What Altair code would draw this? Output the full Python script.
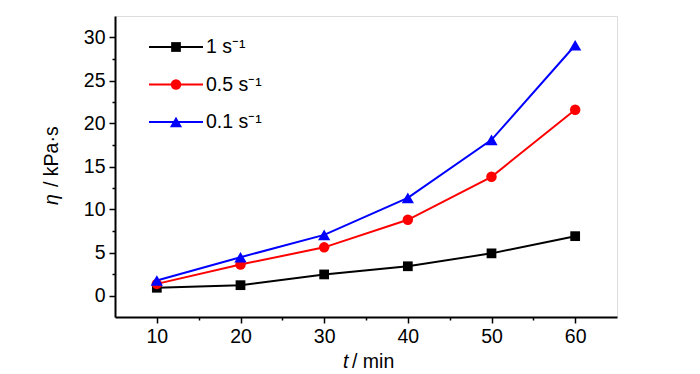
import altair as alt
import pandas as pd

# ---- data ----
t_min = [10, 20, 30, 40, 50, 60]
eta_1 = [0.9, 1.2, 2.45, 3.4, 4.9, 6.9]
eta_05 = [1.35, 3.6, 5.6, 8.8, 13.8, 21.6]
eta_01 = [1.75, 4.45, 7.05, 11.35, 18.1, 29.1]
series = ["1 s⁻¹", "0.5 s⁻¹", "0.1 s⁻¹"]
colors = ["#000000", "#FF0000", "#0000FF"]
shapes = ["square", "circle", "triangle-up"]
sizes = [95, 110, 150]
x_ticks = [10, 15, 20, 25, 30, 35, 40, 45, 50, 55, 60]
y_ticks = [0, 2.5, 5, 7.5, 10, 12.5, 15, 17.5, 20, 22.5, 25, 27.5, 30]

rows = []
for name, vals in zip(series, [eta_1, eta_05, eta_01]):
    for t, v in zip(t_min, vals):
        rows.append({"t": t, "eta": v, "s": name})
df = pd.DataFrame(rows)

FONT = "Liberation Sans, Arial"
FS = 19.5
W, H = 502, 301

color = alt.Color("s:N", scale=alt.Scale(domain=series, range=colors), legend=None)

x = alt.X("t:Q", scale=alt.Scale(domain=[5, 65], nice=False, zero=False),
          axis=alt.Axis(values=x_ticks, title=None, grid=False,
                        labelExpr="datum.value % 10 == 0 ? datum.label : ''",
                        tickSize={"condition": {"test": "datum.value % 10 != 0", "value": 3}, "value": 6},
                        tickColor="black", tickWidth=1.5, domainColor="black", domainWidth=2,
                        labelFont=FONT, labelFontSize=FS, labelColor="black", labelPadding=4))
y = alt.Y("eta:Q", scale=alt.Scale(domain=[-2.5, 32.5], nice=False, zero=False),
          axis=alt.Axis(values=y_ticks, title=None, grid=False,
                        labelExpr="datum.value % 5 == 0 ? datum.label : ''",
                        tickSize={"condition": {"test": "datum.value % 5 != 0", "value": 3}, "value": 6},
                        tickColor="black", tickWidth=1.5, domainColor="black", domainWidth=2,
                        labelFont=FONT, labelFontSize=FS, labelColor="black", labelPadding=4))

base = alt.Chart(df)
layers = [base.mark_line(strokeWidth=2).encode(x=x, y=y, color=color, detail="s:N")]

# legend table (manual, inside plot)
leg = pd.DataFrame({"s": series, "i": list(range(len(series)))})
legbase = alt.Chart(leg).transform_calculate(ly="31 + 37.5 * datum.i")
layers.append(legbase.mark_rule(strokeWidth=2).encode(
    x=alt.value(34), x2=alt.value(88), y=alt.Y("ly:Q", scale=None), color=color))

for name, shp, sz, col in zip(series, shapes, sizes, colors):
    layers.append(base.transform_filter(alt.datum.s == name).mark_point(
        filled=True, opacity=1, shape=shp, size=sz, color=col).encode(x=x, y=y))
    layers.append(legbase.transform_filter(alt.datum.s == name).mark_point(
        filled=True, opacity=1, shape=shp, size=sz, color=col).encode(
        x=alt.value(61), y=alt.Y("ly:Q", scale=None)))

layers.append(legbase.mark_text(align="left", baseline="middle", font=FONT, fontSize=FS, color="black").encode(
    x=alt.value(91), y=alt.Y("ly:Q", scale=None), text="s:N"))

# axis titles with italic symbols
title_df = pd.DataFrame({"a": [0]})
tb = alt.Chart(title_df)
layers += [
    tb.mark_text(text="t", fontStyle="italic", font=FONT, fontSize=FS, align="left",
                 baseline="alphabetic", color="black").encode(x=alt.value(228), y=alt.value(352)),
    tb.mark_text(text="/ min", font=FONT, fontSize=FS, align="left",
                 baseline="alphabetic", color="black").encode(x=alt.value(237), y=alt.value(352)),
    tb.mark_text(text="η", fontStyle="italic", font=FONT, fontSize=FS, align="left", angle=270,
                 baseline="alphabetic", color="black").encode(x=alt.value(-57), y=alt.value(189)),
    tb.mark_text(text="/ kPa·s", font=FONT, fontSize=FS, align="left", angle=270,
                 baseline="alphabetic", color="black").encode(x=alt.value(-57), y=alt.value(171)),
]

chart = alt.layer(*layers).properties(
    width=W, height=H,
    autosize=alt.AutoSizeParams(type="none"),
    padding={"left": 107, "top": 8, "right": 75, "bottom": 57},
).configure_view(stroke="black", strokeWidth=2).configure(background="white")

chart.save("out.html", embed_options={"renderer": "svg", "actions": False})
